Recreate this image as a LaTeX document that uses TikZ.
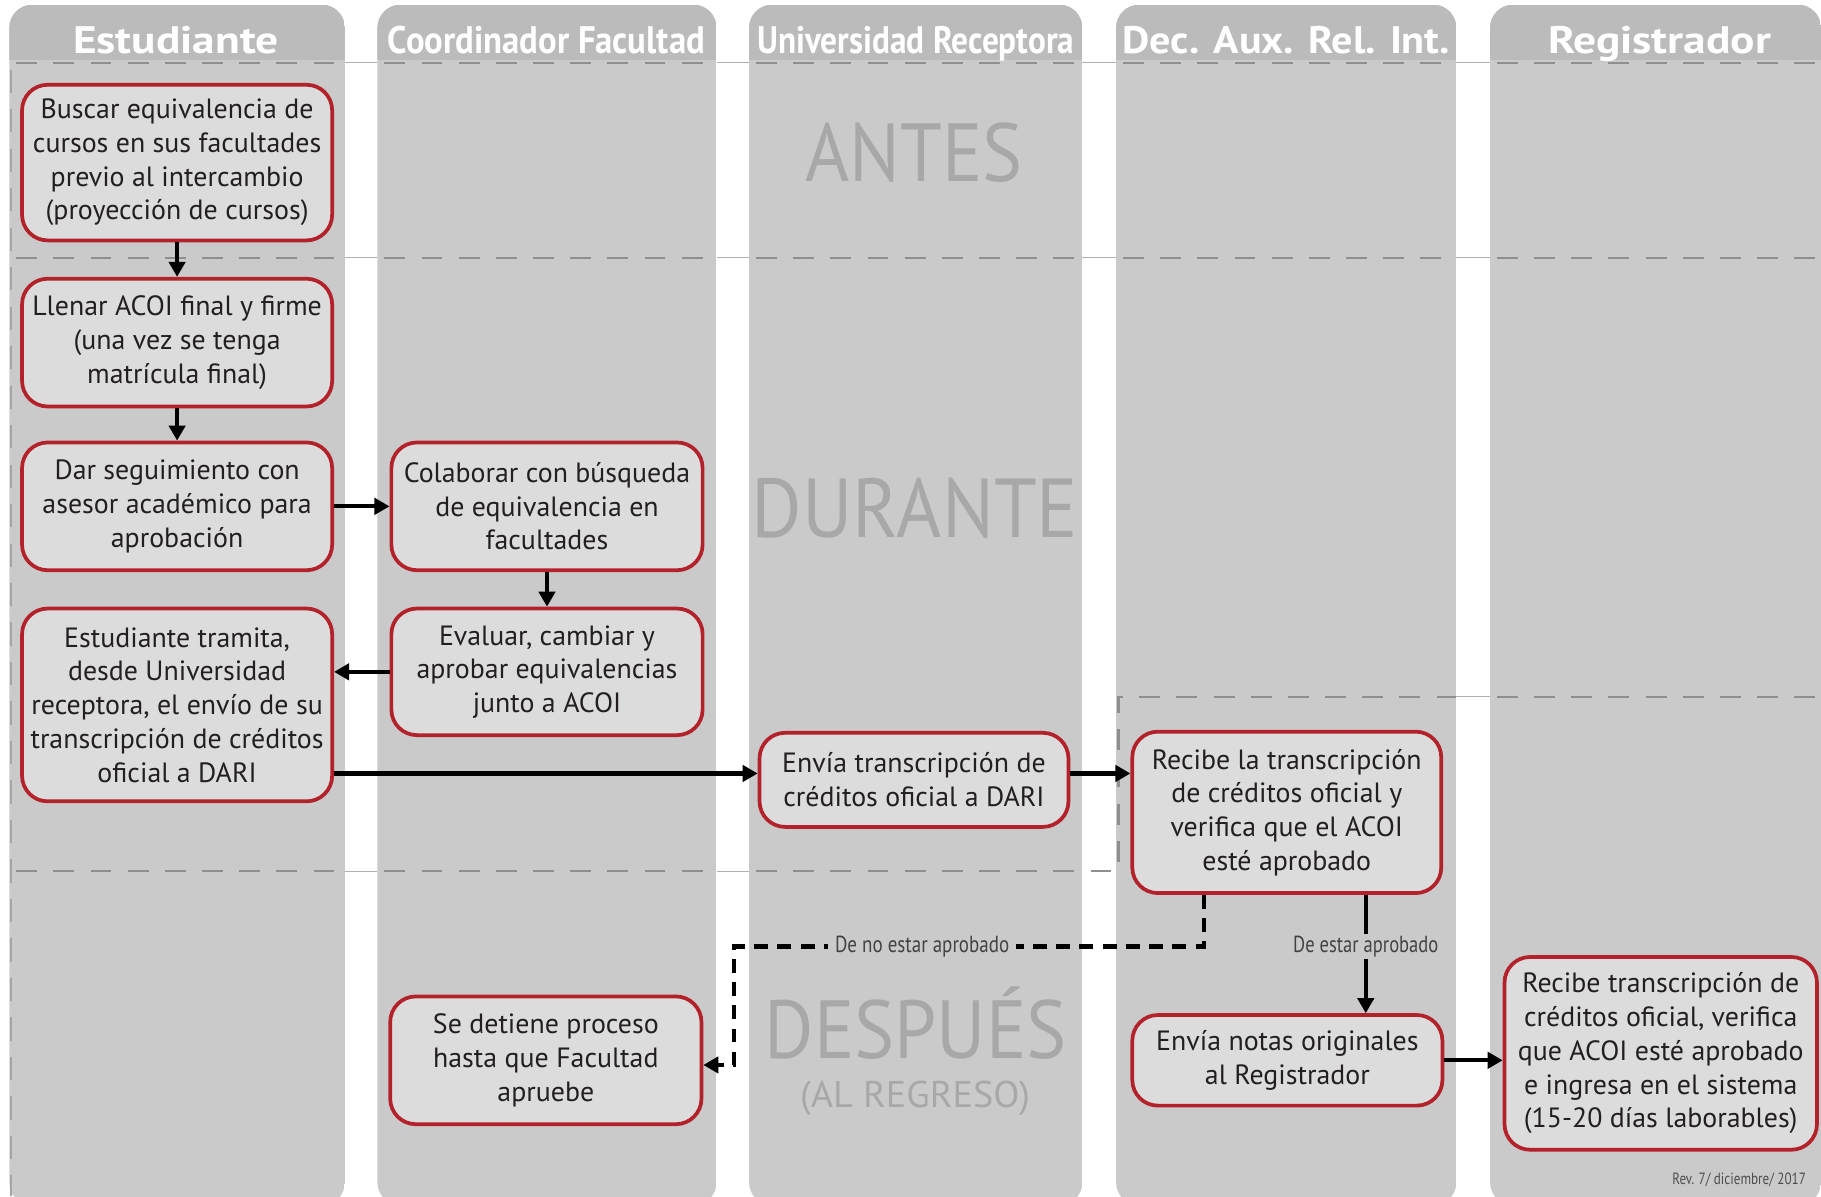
\documentclass[tikz,border=0pt]{standalone}
\usepackage{fontspec}
\setmainfont{PT Sans}
\usetikzlibrary{arrows.meta}
\definecolor{lanebody}{HTML}{CBCACB}
\definecolor{lanehead}{HTML}{BCBBBC}
\definecolor{boxfill}{HTML}{DDDCDC}
\definecolor{boxred}{HTML}{B3222A}
\definecolor{wmark}{HTML}{A9A8A9}
\definecolor{sepgray}{HTML}{8F8F8F}
\definecolor{ink}{HTML}{231F20}
\tikzset{
  stepbox/.style={draw=boxred, line width=3.2pt, fill=boxfill, rounded corners=22pt,
    align=center, text=ink, font=\fontsize{24}{29}\selectfont, inner sep=2pt},
  arr/.style={line width=3.5pt, draw=black, -{Triangle[length=13pt,width=14pt]}},
  darr/.style={arr, line width=3.6pt, dash pattern=on 12pt off 8pt},
  lanetitle/.style={text=white, font=\fontsize{33}{36}\selectfont\bfseries, anchor=base, inner sep=0pt},
  wm/.style={text=wmark, anchor=base, inner sep=0pt},
  sepline/.style={draw=sepgray, line width=2pt, dash pattern=on 18pt off 14pt},
  gapline/.style={draw=sepgray!70, line width=0.9pt},
  lbl/.style={text=ink!85, fill=lanebody, inner xsep=6pt, inner ysep=2pt, font=\fontsize{20}{24}\selectfont},
}
\begin{document}
\begin{tikzpicture}[x=1pt,y=-1pt]
\useasboundingbox (0,0) rectangle (1568,1030);
\fill[white] (0,0) rectangle (1568,1030);
% lanes
\foreach \xa/\xb in {8/297,325/617,645/932,961/1254,1283/1568} {
  \begin{scope}
    \clip[rounded corners=20pt] (\xa,4) rectangle (\xb,1038);
    \fill[lanebody] (\xa,4) rectangle (\xb,1038);
    \fill[lanehead] (\xa,4) rectangle (\xb,52);
  \end{scope}
}
% separators
\foreach \yy in {54,222} {
  \foreach \xa/\xb in {8/297,325/617,645/932,961/1254,1283/1568}
    \draw[sepline] (\xa+6,\yy) -- (\xb,\yy);
  \foreach \xa/\xb in {297/325,617/645,932/961,1254/1283}
    \draw[gapline] (\xa,\yy) -- (\xb,\yy);
}
\foreach \xa/\xb in {8/297,325/617}
  \draw[sepline] (\xa+6,750) -- (\xb,750);
\foreach \xa/\xb in {297/325,617/645}
  \draw[gapline] (\xa,750) -- (\xb,750);
\draw[sepline] (651,750) -- (963,750) -- (963,600) -- (1254,600);
\draw[gapline] (1254,600) -- (1283,600);
\draw[sepline] (1289,600) -- (1568,600);
\draw[draw=sepgray!80, line width=1.4pt, dash pattern=on 20pt off 14pt] (9.5,60) -- (9.5,1030);

% headers
\node[lanetitle] (h1) at (151.5,46) {\resizebox{177pt}{\height}{Estudiante}};
\node[lanetitle] (h2) at (470.5,46) {\resizebox{273pt}{\height}{Coordinador Facultad}};
\node[lanetitle] (h3) at (788.5,46) {\resizebox{273pt}{\height}{Universidad Receptora}};
\node[lanetitle] (h4) at (1107.5,46) {\resizebox{282pt}{\height}{Dec. Aux. Rel. Int.}};
\node[lanetitle] (h5) at (1429,46) {\resizebox{192pt}{\height}{Registrador}};

% phase watermarks
\node[wm, font=\fontsize{71}{71}\selectfont] (w1) at (787,156.5) {\resizebox{187pt}{\height}{ANTES}};
\node[wm, font=\fontsize{72}{72}\selectfont] (w2) at (788,463) {\resizebox{281pt}{\height}{DURANTE}};
\node[wm, font=\fontsize{71}{71}\selectfont] (w3) at (788.5,911) {\resizebox{260pt}{\height}{DESPUÉS}};
\node[wm, font=\fontsize{32}{32}\selectfont] (w4) at (788,954) {\resizebox{198pt}{\height}{(AL REGRESO)}};

% steps
\node[stepbox, minimum width=267pt, minimum height=134pt] (b1) at (152.5,140) {Buscar equivalencia de\\cursos en sus facultades\\previo al intercambio\\(proyección de cursos)};
\node[stepbox, minimum width=267pt, minimum height=110pt] (b2) at (152.5,295) {Llenar ACOI final y firme\\(una vez se tenga\\matrícula final)};
\node[stepbox, minimum width=267pt, minimum height=110pt] (b3) at (152.5,436) {Dar seguimiento con\\asesor académico para\\aprobación};
\node[stepbox, minimum width=267pt, minimum height=166pt] (b4) at (152.5,607) {Estudiante tramita,\\desde Universidad\\receptora, el envío de su\\transcripción de créditos\\oficial a DARI};
\node[stepbox, minimum width=268pt, minimum height=110pt] (b5) at (471,436) {Colaborar con búsqueda\\de equivalencia en\\facultades};
\node[stepbox, minimum width=268pt, minimum height=109pt] (b6) at (471,578.5) {Evaluar, cambiar y\\aprobar equivalencias\\junto a ACOI};
\node[stepbox, minimum width=266pt, minimum height=81pt] (b7) at (787,671.5) {Envía transcripción de\\créditos oficial a DARI};
\node[stepbox, minimum width=266pt, minimum height=139pt] (b8) at (1108,699.5) {Recibe la transcripción\\de créditos oficial y\\verifica que el ACOI\\esté aprobado};
\node[stepbox, minimum width=267pt, minimum height=78pt] (b9) at (1108.5,913) {Envía notas originales\\al Registrador};
\node[stepbox, minimum width=269pt, minimum height=166pt] (b10) at (1430,907) {Recibe transcripción de\\créditos oficial, verifica\\que ACOI esté aprobado\\e ingresa en el sistema\\(15-20 días laborables)};
\node[stepbox, minimum width=268pt, minimum height=110pt] (b11) at (470,913) {Se detiene proceso\\hasta que Facultad\\apruebe};

% connectors
\coordinate (row) at (700,666);
\coordinate (ya) at (1176,815);
\coordinate (d1) at (1037,815);
\coordinate (d2) at (632,815);
\coordinate (d3) at (632,917);
\draw[arr] (b1) -- (b2);
\draw[arr] (b2) -- (b3);
\draw[arr] (b3) -- (b5);
\draw[arr] (b5) -- (b6);
\draw[arr] (b6.west) -- (b6.west -| b4.east);
\draw[arr] (b4.east |- row) -- (b7.west |- row);
\draw[arr] (b7.east |- row) -- (b8.west |- row);
\draw[arr] (b8.south -| ya) -- (b9.north -| ya);
\draw[arr] (b9.east) -- (b9.east -| b10.west);
\draw[darr] (b8.south -| d1) -- (d1) -- (d2) -- (d3) -- (d3 -| b11.east);
\node[lbl] (l1) at (794,815) {\resizebox{150pt}{\height}{De no estar aprobado}};
\node[lbl] (l2) at (ya) {\resizebox{125pt}{\height}{De estar aprobado}};
\node[text=ink!80, anchor=base, inner sep=0pt, font=\fontsize{14}{16}\selectfont] (rev) at (1497.5,1020) {\resizebox{115pt}{\height}{Rev. 7/ diciembre/ 2017}};
\end{tikzpicture}
\end{document}
